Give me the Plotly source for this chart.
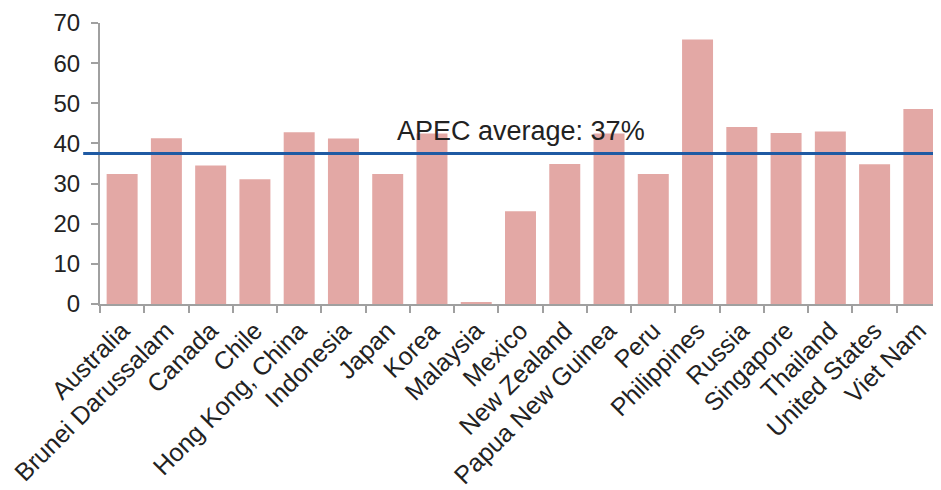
import plotly.graph_objects as go

categories = ["Australia", "Brunei Darussalam", "Canada", "Chile", "Hong Kong, China",
              "Indonesia", "Japan", "Korea", "Malaysia", "Mexico", "New Zealand",
              "Papua New Guinea", "Peru", "Philippines", "Russia", "Singapore",
              "Thailand", "United States", "Viet Nam"]
values = [32.4, 41.3, 34.5, 31.1, 42.8, 41.2, 32.4, 42.5, 0.4, 23.1, 34.9,
          42.5, 32.4, 65.9, 44.1, 42.6, 43.0, 34.8, 48.6]
apec_average = 37.5
average_label = "APEC average: 37%"
y_ticks = [0, 10, 20, 30, 40, 50, 60, 70]

FONT = "Liberation Sans, Arial, Helvetica, sans-serif"

fig = go.Figure()
fig.add_trace(go.Bar(
    x=categories, y=values,
    marker=dict(color="#E3A8A5", line=dict(width=0)),
    width=0.7, showlegend=False,
))
fig.add_shape(type="line", xref="paper", yref="y", x0=-0.02, x1=1,
              y0=apec_average, y1=apec_average,
              line=dict(color="#1F5AA3", width=3))
fig.add_annotation(x="Mexico", y=apec_average, xref="x", yref="y",
                   text=average_label, showarrow=False,
                   yanchor="bottom", yshift=5,
                   font=dict(family=FONT, size=27, color="#222222"))

fig.update_layout(
    width=933, height=482,
    margin=dict(l=92, r=0, t=15, b=186),
    paper_bgcolor="white", plot_bgcolor="white",
    font=dict(family=FONT, color="#222222"),
)
fig.update_xaxes(
    automargin=False,
    showline=True, linecolor="#A0A0A0", linewidth=2,
    ticks="outside", tickson="boundaries", ticklen=7, tickcolor="#A0A0A0", tickwidth=2,
    tickangle=-45, tickfont=dict(family=FONT, size=25, color="#222222"),
    showgrid=False,
)
fig.update_yaxes(
    automargin=False,
    range=[0, 70], tickvals=y_ticks,
    showline=True, linecolor="#A0A0A0", linewidth=2,
    ticks="outside", ticklen=7, tickcolor="#A0A0A0", tickwidth=2,
    tickfont=dict(family=FONT, size=24, color="#222222"),
    showgrid=False, zeroline=False, ticklabelstandoff=6,
)

fig.write_html("out.html")
